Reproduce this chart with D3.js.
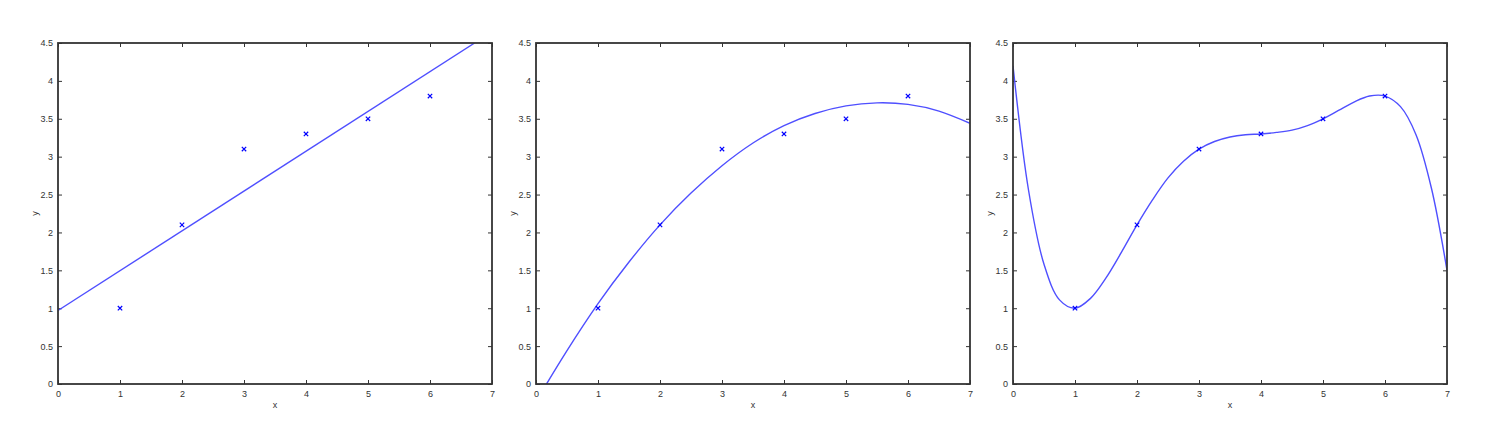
<!DOCTYPE html>
<html>
<head>
<meta charset="utf-8">
<script src="https://cdn.jsdelivr.net/npm/d3@7"></script>
<style>
  body { margin: 0; background: #fff; }
  .tick text { font-family: "Liberation Sans", Arial, sans-serif; font-size: 9px; fill: #333; }
</style>
</head>
<body>
<script>
// observed samples (same in all three panels)
const sampleX = [1, 2, 3, 4, 5, 6];
const sampleY = [1, 2.1, 3.1, 3.3, 3.5, 3.8];

// fitted curves
const linFitX = [0, 6.72];
const linFitY = [0.97, 4.5];

const quadFitX = [0.17, 0.5, 1, 1.5, 2, 2.5, 3, 3.5, 4, 4.5, 5, 5.5, 6, 6.5, 7];
const quadFitY = [0, 0.44, 1.06, 1.61, 2.1, 2.52, 2.88, 3.18, 3.41, 3.57, 3.67, 3.71, 3.69, 3.6, 3.44];

const polyFitX = [0, 0.25, 0.5, 0.75, 1, 1.25, 1.5, 1.75, 2, 2.25, 2.5, 2.75, 3, 3.25, 3.5, 3.75,
                  4, 4.25, 4.5, 4.75, 5, 5.25, 5.5, 5.75, 6, 6.25, 6.5, 6.75, 7];
const polyFitY = [4.2, 2.56, 1.58, 1.11, 1.0, 1.13, 1.4, 1.74, 2.1, 2.43, 2.72, 2.94, 3.1, 3.2, 3.26, 3.29,
                  3.3, 3.32, 3.35, 3.41, 3.5, 3.61, 3.72, 3.8, 3.8, 3.66, 3.29, 2.58, 1.5];

const xTicks = [0, 1, 2, 3, 4, 5, 6, 7];
const yTicks = [0, 0.5, 1, 1.5, 2, 2.5, 3, 3.5, 4, 4.5];

const fits = [
    { xs: linFitX, ys: linFitY, curve: d3.curveLinear },
    { xs: quadFitX, ys: quadFitY, curve: d3.curveNatural },
    { xs: polyFitX, ys: polyFitY, curve: d3.curveCatmullRom }
];

const W = 1494, H = 430;
const panelLeft = [58, 536, 1013];
const panelW = 434;
const plotTop = 43, plotBottom = 384;
const axisColor = "#333";
const blue = "#0000ff";

const svg = d3.select("body").append("svg")
    .attr("width", W)
    .attr("height", H);

fits.forEach((fit, i) => {
    const x0 = panelLeft[i];
    const xScale = d3.scaleLinear().domain([0, 7]).range([x0, x0 + panelW]);
    const yScale = d3.scaleLinear().domain([0, 4.5]).range([plotBottom, plotTop]);

    const g = svg.append("g").attr("class", "panel");

    g.append("clipPath")
        .attr("id", "clip" + i)
        .append("rect")
        .attr("x", x0).attr("y", plotTop)
        .attr("width", panelW).attr("height", plotBottom - plotTop);

    // bottom & left axes with labels, inward ticks
    g.append("g")
        .attr("transform", `translate(0,${plotBottom})`)
        .call(d3.axisBottom(xScale).tickValues(xTicks).tickSizeInner(-4).tickSizeOuter(0).tickPadding(7).tickFormat(d3.format("d")))
        .call(a => a.select(".domain").remove());
    g.append("g")
        .attr("transform", `translate(${x0},0)`)
        .call(d3.axisLeft(yScale).tickValues(yTicks).tickSizeInner(-4).tickSizeOuter(0).tickPadding(5).tickFormat(d3.format("")))
        .call(a => a.select(".domain").remove());
    // top & right ticks without labels
    g.append("g")
        .attr("transform", `translate(0,${plotTop})`)
        .call(d3.axisTop(xScale).tickValues(xTicks).tickSizeInner(-4).tickSizeOuter(0).tickFormat(""))
        .call(a => a.select(".domain").remove());
    g.append("g")
        .attr("transform", `translate(${x0 + panelW},0)`)
        .call(d3.axisRight(yScale).tickValues(yTicks).tickSizeInner(-4).tickSizeOuter(0).tickFormat(""))
        .call(a => a.select(".domain").remove());
    g.selectAll(".tick line").attr("stroke", axisColor);

    // fitted curve
    const line = d3.line()
        .x(d => xScale(d[0]))
        .y(d => yScale(d[1]))
        .curve(fit.curve);
    g.append("path")
        .datum(d3.zip(fit.xs, fit.ys))
        .attr("clip-path", `url(#clip${i})`)
        .attr("fill", "none")
        .attr("stroke", "#4f4fff")
        .attr("stroke-width", 1.4)
        .attr("d", line);

    // sample markers
    const s = 2.2;
    g.selectAll("path.mark")
        .data(d3.zip(sampleX, sampleY))
        .enter().append("path")
        .attr("class", "mark")
        .attr("fill", "none")
        .attr("stroke", blue)
        .attr("stroke-width", 1.2)
        .attr("d", d => {
            const cx = xScale(d[0]), cy = yScale(d[1]);
            return `M${cx - s},${cy - s}L${cx + s},${cy + s}M${cx - s},${cy + s}L${cx + s},${cy - s}`;
        });

    // box
    g.append("rect")
        .attr("x", x0).attr("y", plotTop)
        .attr("width", panelW).attr("height", plotBottom - plotTop)
        .attr("fill", "none")
        .attr("stroke", axisColor)
        .attr("stroke-width", 1.8);

    g.append("text")
        .attr("x", x0 + panelW / 2)
        .attr("y", 408)
        .attr("text-anchor", "middle")
        .style("font-family", "Liberation Sans, Arial, sans-serif")
        .style("font-size", "9px")
        .style("fill", "#333")
        .text("x");

    g.append("text")
        .attr("transform", `translate(${x0 - 20},${(plotTop + plotBottom) / 2}) rotate(-90)`)
        .attr("text-anchor", "middle")
        .style("font-family", "Liberation Sans, Arial, sans-serif")
        .style("font-size", "9px")
        .style("fill", "#333")
        .text("y");
});
</script>
</body>
</html>
